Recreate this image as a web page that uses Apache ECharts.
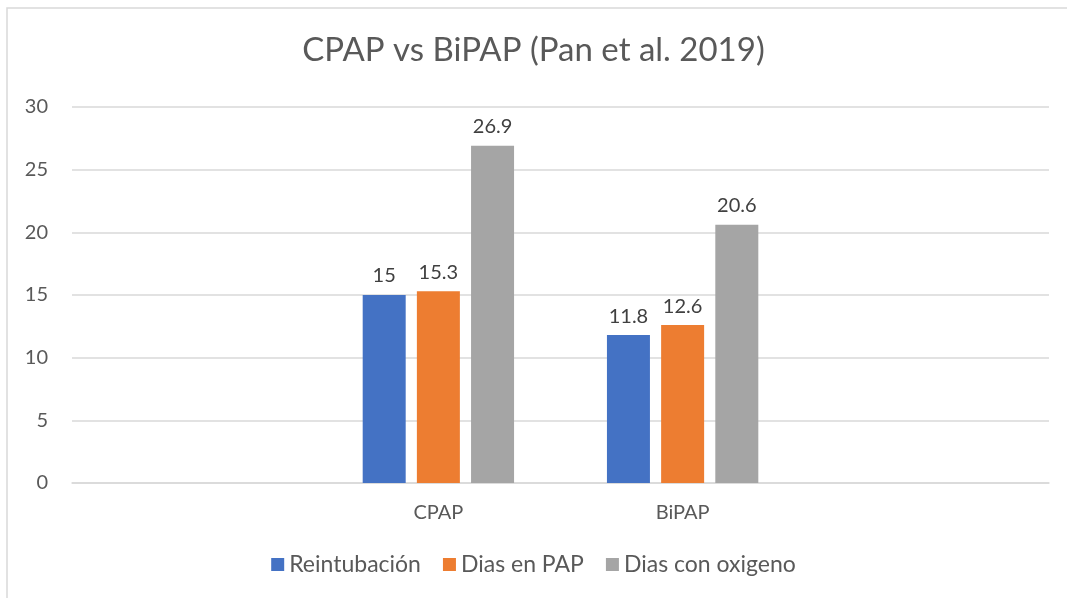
<!DOCTYPE html>
<html>
<head>
<meta charset="utf-8">
<script src="https://cdn.jsdelivr.net/npm/echarts@6/dist/echarts.min.js"></script>
<style>
  html, body { margin: 0; padding: 0; background: #fff; }
  #chart { width: 1067px; height: 598px; }
</style>
</head>
<body>
<div id="chart"></div>
<script>
// categorias (las de los extremos vacias, como en el grafico original)
var categories = ['', 'CPAP', 'BiPAP', ''];
var reintubacion = [null, 15, 11.8, null];
var diasPap = [null, 15.3, 12.6, null];
var diasOxigeno = [null, 26.9, 20.6, null];
var seriesNames = ['Reintubación', 'Dias en PAP', 'Dias con oxigeno'];
var colors = ['#4472C4', '#ED7D31', '#A5A5A5'];

var font = 'Lato, "Open Sans", sans-serif';
var chart = echarts.init(document.getElementById('chart'));

function barSeries(name, data, color) {
    return {
        name: name,
        type: 'bar',
        data: data,
        barWidth: 43,
        barGap: '26%',
        itemStyle: { color: color },
        label: {
            show: true,
            position: 'top',
            distance: 9,
            color: '#404040',
            fontFamily: font,
            fontSize: 20
        }
    };
}

var option = {
    animation: false,
    color: colors,
    title: {
        text: 'CPAP vs BiPAP (Pan et al. 2019)',
        left: 'center',
        top: 29,
        textStyle: { color: '#595959', fontFamily: font, fontSize: 33, fontWeight: 'normal' }
    },
    legend: {
        bottom: 17,
        left: 'center',
        itemWidth: 13,
        itemHeight: 13,
        itemGap: 22,
        icon: 'rect',
        textStyle: { color: '#595959', fontFamily: font, fontSize: 23 },
        data: seriesNames
    },
    grid: { left: 72, right: 18, top: 107, bottom: 115 },
    xAxis: {
        type: 'category',
        data: categories,
        axisLine: { lineStyle: { color: '#D9D9D9', width: 1.5 } },
        axisTick: { show: false },
        axisLabel: { color: '#595959', fontFamily: font, fontSize: 20, margin: 20 }
    },
    yAxis: {
        type: 'value',
        min: 0,
        max: 30,
        interval: 5,
        axisLine: { show: false },
        axisTick: { show: false },
        splitLine: { lineStyle: { color: '#D9D9D9', width: 1.5 } },
        axisLabel: { color: '#595959', fontFamily: font, fontSize: 20, margin: 24 }
    },
    graphic: [{
        type: 'rect',
        shape: { x: 7, y: 8, width: 2000, height: 2000 },
        style: { fill: 'none', stroke: '#D9D9D9', lineWidth: 1.5 },
        silent: true
    }],
    series: [
        barSeries(seriesNames[0], reintubacion, colors[0]),
        barSeries(seriesNames[1], diasPap, colors[1]),
        barSeries(seriesNames[2], diasOxigeno, colors[2])
    ]
};
chart.setOption(option);
</script>
</body>
</html>
